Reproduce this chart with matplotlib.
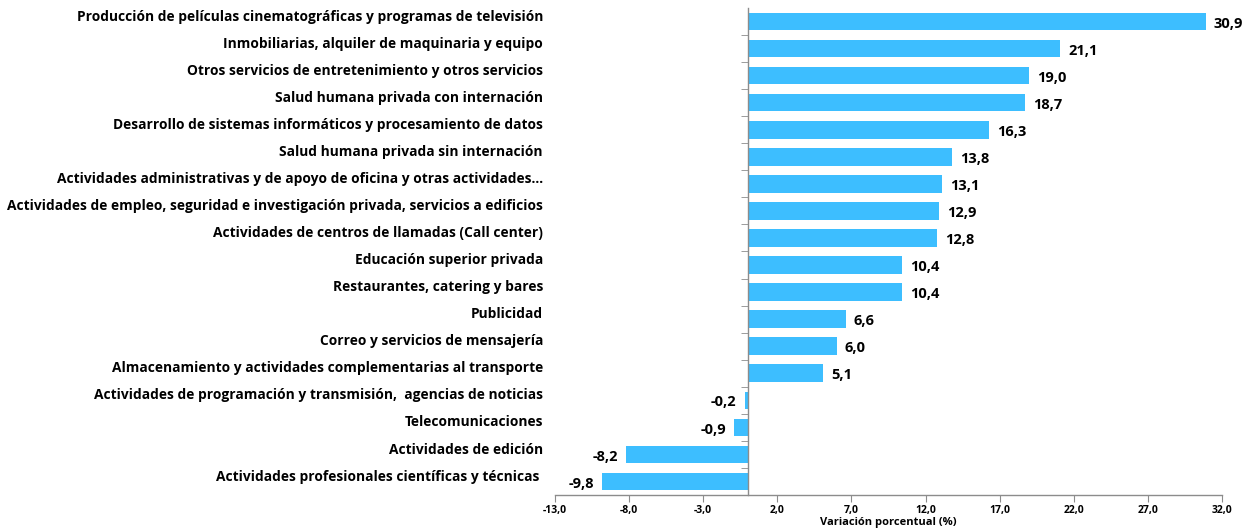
import numpy as np
import matplotlib.pyplot as plt
from matplotlib.transforms import blended_transform_factory

categories = [
    "Producción de películas cinematográficas y programas de televisión",
    "Inmobiliarias, alquiler de maquinaria y equipo",
    "Otros servicios de entretenimiento y otros servicios",
    "Salud humana privada con internación",
    "Desarrollo de sistemas informáticos y procesamiento de datos",
    "Salud humana privada sin internación",
    "Actividades administrativas y de apoyo de oficina y otras actividades...",
    "Actividades de empleo, seguridad e investigación privada, servicios a edificios",
    "Actividades de centros de llamadas (Call center)",
    "Educación superior privada",
    "Restaurantes, catering y bares",
    "Publicidad",
    "Correo y servicios de mensajería",
    "Almacenamiento y actividades complementarias al transporte",
    "Actividades de programación y transmisión,  agencias de noticias",
    "Telecomunicaciones",
    "Actividades de edición",
    "Actividades profesionales científicas y técnicas ",
]
values = [30.9, 21.1, 19.0, 18.7, 16.3, 13.8, 13.1, 12.9, 12.8, 10.4, 10.4,
          6.6, 6.0, 5.1, -0.2, -0.9, -8.2, -9.8]
xticks = [-13, -8, -3, 2, 7, 12, 17, 22, 27, 32]

plt.rcParams['font.family'] = ['Open Sans', 'DejaVu Sans']

fig = plt.figure(figsize=(12.46, 5.32), dpi=100)
ax = fig.add_axes([555 / 1246, 37 / 532, 667 / 1246, 487 / 532])

y = np.arange(len(values))
ax.barh(y, values, height=0.65, color='#3DBEFF')
ax.set_ylim(len(values) - 0.5, -0.5)
ax.set_xlim(-13, 32)

ax.spines['top'].set_visible(False)
ax.spines['right'].set_visible(False)
ax.spines['left'].set_position(('data', 0))
for s in ['left', 'bottom']:
    ax.spines[s].set_color('#8c8c8c')
    ax.spines[s].set_linewidth(1)

ax.set_xticks(xticks)
ax.set_xticklabels([f"{t:.1f}".replace('.', ',') for t in xticks],
                   fontsize=7.5, fontweight='bold')
ax.tick_params(axis='x', direction='out', length=5, color='#8c8c8c', pad=2)
ax.set_yticks([])
ax.set_yticks(np.arange(len(values)) + 0.5, minor=True)
ax.tick_params(axis='y', which='minor', direction='out', length=5, color='#8c8c8c')
ax.set_xlabel("Variación porcentual (%)", fontsize=8, fontweight='bold', labelpad=1)

trans = blended_transform_factory(ax.transAxes, ax.transData)
for i, cat in enumerate(categories):
    ax.text(-0.018, i - 0.18, cat, transform=trans, ha='right', va='center',
            fontsize=9.9, fontweight='bold', color='black')

for i, v in enumerate(values):
    lab = f"{v:.1f}".replace('.', ',')
    if v >= 0:
        ax.text(v + 0.55, i + 0.08, lab, ha='left', va='center',
                fontsize=10.5, fontweight='bold')
    else:
        ax.text(v - 0.55, i + 0.08, lab, ha='right', va='center',
                fontsize=10.5, fontweight='bold')

fig.savefig('out.png', dpi=100)
